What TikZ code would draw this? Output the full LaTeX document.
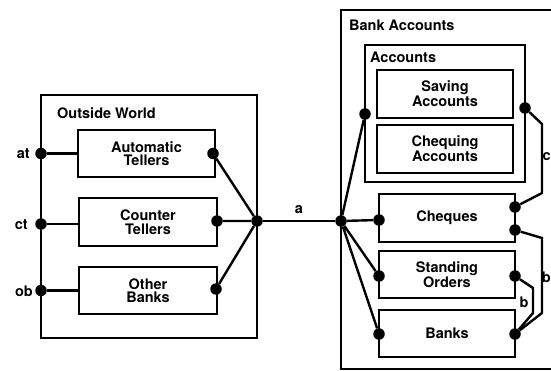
\documentclass[tikz,border=0pt]{standalone}
\usepackage{fontspec}
\setmainfont{TeX Gyre Heros}
\begin{document}
\begin{tikzpicture}[x=1pt,y=-1pt,
  every node/.style={font=\fontsize{14.5}{13.5}\selectfont\bfseries},
  box/.style={draw,line width=2.6pt,align=center,inner sep=0pt},
  frame/.style={draw,line width=2.6pt},
  wire/.style={line width=2.4pt},
  dot/.style={circle,fill,inner sep=0pt,minimum size=11.5pt},
  lbl/.style={inner sep=0pt}]
\useasboundingbox (0,0) rectangle (551,371);
\clip (0,0) rectangle (551,371);

% Outside World
\draw[frame] (41,95) rectangle (257,338);
\node[lbl,anchor=west] (owt) at (57,113) {Outside World};
\node[box,minimum width=137pt,minimum height=47pt] (at) at (146.5,153.5) {Automatic\\Tellers};
\node[box,minimum width=138pt,minimum height=48pt] (ct) at (148,222) {Counter\\Tellers};
\node[box,minimum width=138pt,minimum height=47pt] (ob) at (148,290.5) {Other\\Banks};

% Bank Accounts
\draw[frame] (341,10) rectangle (570,369);
\node[lbl,anchor=west] (bat) at (349,25) {Bank Accounts};
\draw[frame] (365,45) rectangle (525,182);
\node[lbl,anchor=west] (act) at (370,57) {Accounts};
\node[box,minimum width=136pt,minimum height=48pt] (sa) at (445,94) {Saving\\Accounts};
\node[box,minimum width=136pt,minimum height=48pt] (ca) at (445,149) {Chequing\\Accounts};
\node[box,minimum width=136pt,minimum height=48pt] (chq) at (447,218) {Cheques};
\node[box,minimum width=136pt,minimum height=47pt] (so) at (447,274.5) {Standing\\Orders};
\node[box,minimum width=136pt,minimum height=47pt] (bk) at (447,333.5) {Banks};

% ports
\node[dot] (pat) at (41,153.5) {};
\node[dot] (pct) at (41,224) {};
\node[dot] (pob) at (41,290.5) {};
\node[dot] (qat) at (213,153.5) {};
\node[dot] (qct) at (217,221) {};
\node[dot] (qob) at (216,289) {};
\node[dot] (hl) at (257,221) {};
\node[dot] (hr) at (341,221) {};
\node[dot] (acl) at (365,114) {};
\node[dot] (acr) at (525,108) {};
\node[dot] (chl) at (379,220) {};
\node[dot] (chu) at (515,207) {};
\node[dot] (chd) at (515,230) {};
\node[dot] (sol) at (379,276) {};
\node[dot] (sor) at (515,276) {};
\node[dot] (bkl) at (379,334) {};
\node[dot] (bkr) at (515,334) {};

% external labels
\node[lbl,anchor=east] (lat) at (30,154) {at};
\node[lbl,anchor=east] (lct) at (28,225) {ct};
\node[lbl,anchor=east] (lob) at (33,291) {ob};

% wiring
\draw[wire] (pat) -- (at.west);
\draw[wire] (pct) -- (pct -| ct.west);
\draw[wire] (pob) -- (ob.west);
\draw[wire] (qat) -- (hl) (qct) -- (hl) (qob) -- (hl);
\draw[wire] (hl) -- node[lbl,above=6pt] (la) {a} (hr);
\draw[wire] (hr) -- (acl) (hr) -- (chl) (hr) -- (sol) (hr) -- (bkl);
\draw[wire] (acr) -- (542,124) -- (542,193) -- (chu);
\draw[wire] (chd) -- (542,238) -- (542,313) -- (bkr);
\draw[wire] (sor) -- (533,288) -- (533,313) -- (bkr);
\node[lbl,anchor=east] (lc) at (551,157) {c};
\node[lbl,anchor=east] (lb2) at (551,277) {b};
\node[lbl] (lb) at (524,302) {b};
\end{tikzpicture}
\end{document}
